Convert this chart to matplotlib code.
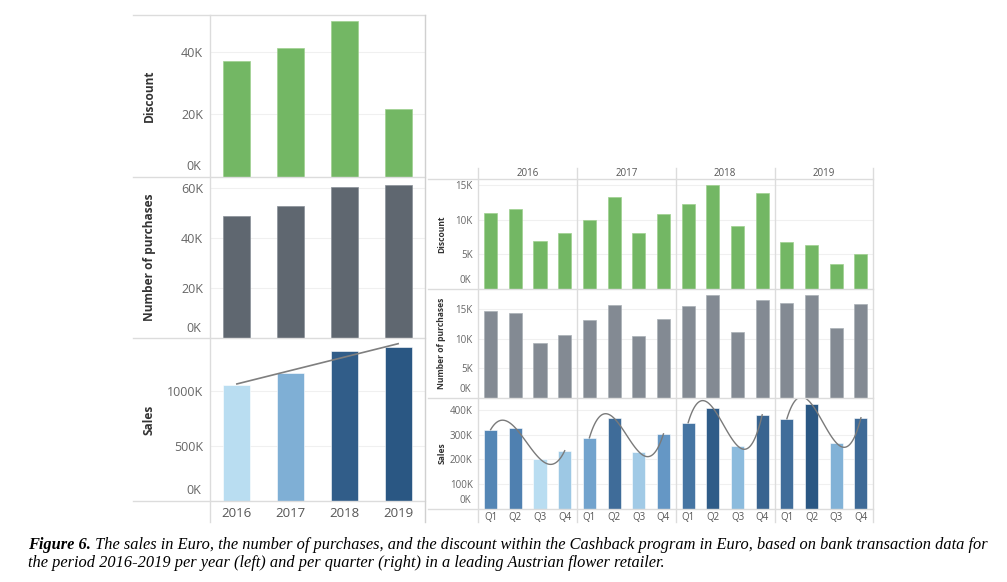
import numpy as np
import matplotlib
matplotlib.use("Agg")
import matplotlib.pyplot as plt
from matplotlib.colors import LinearSegmentedColormap, Normalize
from matplotlib.lines import Line2D
from matplotlib.ticker import FuncFormatter, FixedLocator

# ---------------- data ----------------
years = ["2016", "2017", "2018", "2019"]
quarters = ["Q1", "Q2", "Q3", "Q4"]

discount_year = [37200, 41200, 49800, 21600]
purchases_year = [48800, 52700, 60500, 61200]
sales_year = [1064000, 1170000, 1375000, 1405000]

discount_q = [11000, 11500, 6900, 8100,
              9900, 13200, 8000, 10800,
              12300, 15000, 9100, 13800,
              6700, 6400, 3600, 5100]
purchases_q = [14760, 14300, 9300, 10600,
               13200, 15800, 10500, 13300,
               15500, 17400, 11200, 16500,
               16100, 17400, 11900, 15950]
sales_q = [320000, 327000, 202000, 235000,
           287000, 366000, 231000, 303000,
           348000, 408000, 255000, 380000,
           364000, 423000, 267000, 368000]

left_ticks_discount = [0, 20000, 40000]
left_ticks_purch = [0, 20000, 40000, 60000]
left_ticks_sales = [0, 500000, 1000000]
right_ticks_discount = [0, 5000, 10000, 15000]
right_ticks_purch = [0, 5000, 10000, 15000]
right_ticks_sales = [0, 100000, 200000, 300000, 400000]

caption_bold = "Figure 6."
caption_l1 = (" The sales in Euro, the number of purchases, and the discount within the Cashback "
              "program in Euro, based on bank transaction data for")
caption_l2 = ("the period 2016-2019 per year (left) and per quarter (right) in a leading "
              "Austrian flower retailer.")

# ---------------- style ----------------
W, H = 1007, 582
GREEN = "#73b764"
GRAY_L = "#5f6770"
GRAY_R = "#838a93"
FRAME = "#dcdcdc"
GRID = "#f0f0f0"
TICK_C = "#666666"
LAB_C = "#333333"
blue_cmap = LinearSegmentedColormap.from_list(
    "tblue", [(0.0, "#b9ddf1"), (0.25, "#8ab9dc"), (0.45, "#6698c6"),
              (0.55, "#5082b2"), (0.8, "#3a6591"), (1.0, "#2a5783")])
plt.rcParams["font.family"] = ["Open Sans", "DejaVu Sans"]

fig = plt.figure(figsize=(W / 100, H / 100), dpi=100)


def rect(x0, y0, x1, y1):
    return [x0 / W, 1 - y1 / H, (x1 - x0) / W, (y1 - y0) / H]


def hline(y, x0, x1, color=FRAME, lw=1.0):
    fig.add_artist(Line2D([x0 / W, x1 / W], [1 - y / H, 1 - y / H],
                          color=color, lw=lw, transform=fig.transFigure))


def vline(x, y0, y1, color=FRAME, lw=1.0):
    fig.add_artist(Line2D([x / W, x / W], [1 - y0 / H, 1 - y1 / H],
                          color=color, lw=lw, transform=fig.transFigure))


kfmt = FuncFormatter(lambda v, p: "" if v == 0 else f"{v / 1000:.0f}K")


def style_axes(ax, ticks, ymax, fs, pad, n):
    ax.set_ylim(0, ymax)
    ax.set_xlim(-0.5, n - 0.5)
    for s in ax.spines.values():
        s.set_visible(False)
    ax.yaxis.set_major_locator(FixedLocator(ticks))
    ax.yaxis.set_major_formatter(kfmt)
    ax.tick_params(axis="y", length=0, labelsize=fs, colors=TICK_C, pad=pad)
    ax.tick_params(axis="x", length=0, labelbottom=False)
    ax.set_xticks([])
    ax.grid(axis="y", color=GRID, lw=0.8)
    ax.set_axisbelow(True)
    ax.patch.set_alpha(0)
    # zero label placed slightly above the baseline (Tableau style)
    ax.annotate("0K", xy=(0, 0), xycoords=("axes fraction", "data"),
                xytext=(-pad - 1.5, 2.5), textcoords="offset points",
                ha="right", va="bottom", fontsize=fs, color=TICK_C)


# ---------------- left block ----------------
xl = np.arange(len(years))
ax_d = fig.add_axes(rect(210, 14.5, 425, 176.5))
ax_p = fig.add_axes(rect(210, 177, 425, 338.3))
ax_s = fig.add_axes(rect(210, 339.3, 425, 500.7))

style_axes(ax_d, left_ticks_discount, 52000, 9, 5, 4)
style_axes(ax_p, left_ticks_purch, 64300, 9, 5, 4)
style_axes(ax_s, left_ticks_sales, 1478000, 9, 5, 4)

ax_d.bar(xl, discount_year, width=0.5, color=GREEN, edgecolor="#9fd08f", lw=0.5)
ax_p.bar(xl, purchases_year, width=0.5, color=GRAY_L, edgecolor="#8a9098", lw=0.5)
norm_l = Normalize(min(sales_year), max(sales_year))
ax_s.bar(xl, sales_year, width=0.5, color=[blue_cmap(norm_l(v)) for v in sales_year],
         edgecolor="white", lw=0.4)
coef = np.polyfit(xl, sales_year, 1)
xs = np.linspace(0, 3, 50)
ax_s.plot(xs, np.polyval(coef, xs), color="#7f7f7f", lw=1.2, clip_on=False, zorder=5)

for ax, lab in [(ax_d, "Discount"), (ax_p, "Number of purchases"), (ax_s, "Sales")]:
    ax.text((149 - 210) / 215, 0.5, lab, transform=ax.transAxes, rotation=90,
            ha="center", va="center", fontsize=8.6, fontweight="bold", color=LAB_C)

for i, y in enumerate(years):
    ax_s.annotate(y, xy=(i, 0), xycoords=("data", "axes fraction"),
                  xytext=(0, -9), textcoords="offset points",
                  ha="center", va="center", fontsize=9.5, color="#555555")

# left frame lines
for y in (14.5, 176.5, 338.3, 500.7):
    hline(y, 133, 425)
vline(210, 14.5, 522)
vline(425, 14.5, 522, color="#d0d0d0")

# ---------------- right block ----------------
xr = np.arange(len(discount_q))
ar_d = fig.add_axes(rect(478.3, 179.3, 873.3, 289))
ar_p = fig.add_axes(rect(478.3, 289, 873.3, 398))
ar_s = fig.add_axes(rect(478.3, 398, 873.3, 509))
style_axes(ar_d, right_ticks_discount, 15800, 7, 4, 16)
style_axes(ar_p, right_ticks_purch, 18440, 7, 4, 16)
style_axes(ar_s, right_ticks_sales, 447600, 7, 4, 16)

ar_d.bar(xr, discount_q, width=0.53, color=GREEN, edgecolor="#9fd08f", lw=0.5)
ar_p.bar(xr, purchases_q, width=0.53, color=GRAY_R, edgecolor="#aab0b6", lw=0.5)
norm_r = Normalize(min(sales_q), max(sales_q))
ar_s.bar(xr, sales_q, width=0.53, color=[blue_cmap(norm_r(v)) for v in sales_q],
         edgecolor="white", lw=0.4)
for g in range(len(years)):
    qx = np.arange(4)
    qy = np.array(sales_q[g * 4:(g + 1) * 4], dtype=float)
    c = np.polyfit(qx, qy, 3)
    xx = np.linspace(0, 3, 80)
    ar_s.plot(xx + g * 4, np.polyval(c, xx), color="#7a7a7a", lw=1.0, zorder=5)

for ax, lab in [(ar_d, "Discount"), (ar_p, "Number of purchases"), (ar_s, "Sales")]:
    ax.text((442 - 478.3) / 395, 0.5, lab, transform=ax.transAxes, rotation=90,
            ha="center", va="center", fontsize=6.1, fontweight="bold", color=LAB_C)

for i in range(16):
    ar_s.annotate(quarters[i % 4], xy=(i, 0), xycoords=("data", "axes fraction"),
                  xytext=(0, -6), textcoords="offset points",
                  ha="center", va="center", fontsize=7, color="#555555")
for g, y in enumerate(years):
    ar_d.annotate(y, xy=(g * 4 + 1.5, 1), xycoords=("data", "axes fraction"),
                  xytext=(0, 4.2), textcoords="offset points",
                  ha="center", va="center", fontsize=7, color="#555555")

for y in (179.3, 289, 398, 509):
    hline(y, 428, 873.3)
for x in (478.3, 577.3, 675.7, 775, 873.3):
    vline(x, 168, 522)

# ---------------- caption ----------------
cap_fs = 11.0
fig.canvas.draw()
r = fig.canvas.get_renderer()
tb = fig.text(28 / W, 1 - 545 / H, caption_bold, fontsize=cap_fs, fontweight="bold",
              style="italic", family="Liberation Serif", va="center", ha="left")
t1 = fig.text(0, 1 - 545 / H, caption_l1, fontsize=cap_fs, style="italic",
              family="Liberation Serif", va="center", ha="left")
wb = tb.get_window_extent(r).width
w1 = t1.get_window_extent(r).width
scale = (981 - 28) / (wb + w1)
cap_fs *= scale
tb.set_fontsize(cap_fs)
t1.set_fontsize(cap_fs)
wb = tb.get_window_extent(r).width
t1.set_x((28 + wb) / W)
fig.text(28 / W, 1 - 563 / H, caption_l2, fontsize=cap_fs, style="italic",
         family="Liberation Serif", va="center", ha="left")

fig.savefig("out.png", dpi=100, facecolor="white")
